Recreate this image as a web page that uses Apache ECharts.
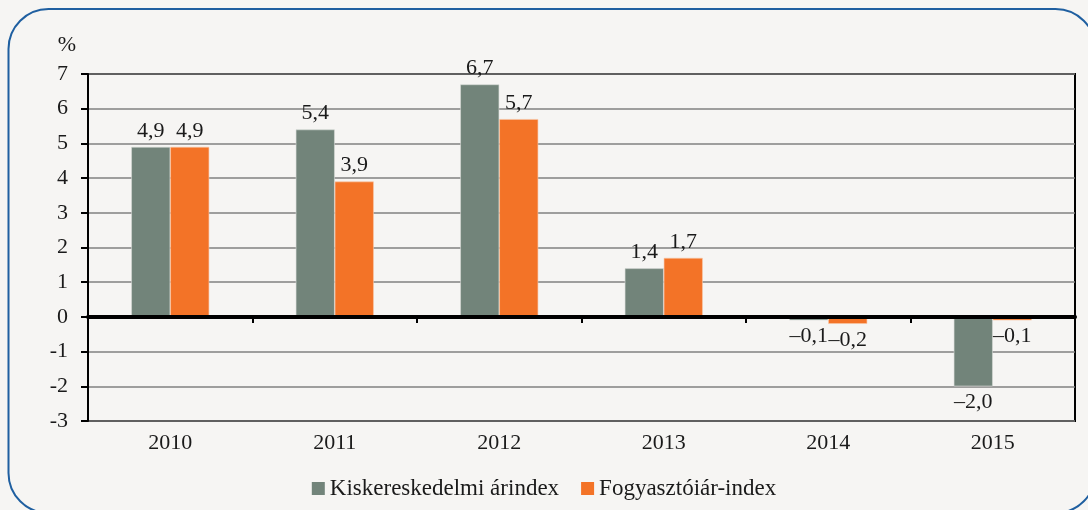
<!DOCTYPE html>
<html>
<head>
<meta charset="utf-8">
<script src="https://cdn.jsdelivr.net/npm/echarts@6/dist/echarts.min.js"></script>
<style>
  html, body { margin: 0; padding: 0; background: #f6f5f3; }
  #chart { width: 1088px; height: 510px; }
</style>
</head>
<body>
<div id="chart"></div>
<script>
var years = ['2010', '2011', '2012', '2013', '2014', '2015'];
var retail = [4.9, 5.4, 6.7, 1.4, -0.1, -2.0];
var consumer = [4.9, 3.9, 5.7, 1.7, -0.2, -0.1];
var seriesNames = ['Kiskereskedelmi árindex', 'Fogyasztóiár-index'];
var yMin = -3, yMax = 7;

var font = "'Liberation Serif', 'DejaVu Serif', serif";
var fs = 22;

// tizedesvessző és nagykötőjel
function fmt(v) {
    var s = Math.abs(v).toFixed(1).replace('.', ',');
    return v < 0 ? '\u2013' + s : s;
}

function barData(arr) {
    return arr.map(function (v) {
        return {
            value: v,
            label: { position: v < 0 ? 'bottom' : 'top' }
        };
    });
}

var chart = echarts.init(document.getElementById('chart'));

var option = {
    backgroundColor: '#f6f5f3',
    animation: false,
    textStyle: { fontFamily: font },
    graphic: [{
        type: 'rect',
        shape: { x: 8.5, y: 9, width: 1087, height: 504, r: 40 },
        style: { fill: 'none', stroke: '#1f5fa0', lineWidth: 2 },
        silent: true
    }],
    grid: {
        left: 88, right: 13, top: 74, bottom: 89,
        show: true,
        borderColor: '#000',
        borderWidth: 2,
        backgroundColor: 'transparent'
    },
    legend: {
        bottom: 5,
        left: 'center',
        icon: 'rect',
        itemWidth: 13,
        itemHeight: 13,
        itemGap: 22,
        itemStyle: { borderWidth: 0 },
        textStyle: { fontFamily: font, fontSize: 23, color: '#1a1a1a' },
        data: seriesNames
    },
    xAxis: [
        {
            type: 'category',
            data: years,
            axisLine: { onZero: true, lineStyle: { color: '#000', width: 4 } },
            axisTick: { show: true, length: 6, lineStyle: { color: '#000', width: 2 } },
            axisLabel: { show: false },
            splitLine: { show: false },
            z: 5
        },
        {
            type: 'category',
            data: years,
            position: 'bottom',
            axisLine: { show: false, onZero: false },
            axisTick: { show: false },
            axisLabel: { fontFamily: font, fontSize: fs, color: '#1a1a1a', margin: 11 }
        }
    ],
    yAxis: {
        type: 'value',
        min: yMin,
        max: yMax,
        interval: 1,
        name: '%',
        nameLocation: 'end',
        nameGap: 18,
        nameTextStyle: { fontFamily: font, fontSize: fs, color: '#1a1a1a', align: 'right', padding: [0, 12, 0, 0] },
        axisLine: { show: true, lineStyle: { color: '#000', width: 2 } },
        axisTick: { show: true, inside: false, length: 7, lineStyle: { color: '#000', width: 2 } },
        axisLabel: { fontFamily: font, fontSize: fs, color: '#1a1a1a', margin: 20 },
        splitLine: { show: true, lineStyle: { color: '#808080', width: 1.5 } }
    },
    series: [
        {
            name: seriesNames[0],
            type: 'bar',
            data: barData(retail),
            barWidth: 39,
            barGap: '0%',
            itemStyle: { color: '#72847a', borderColor: '#d8dcd8', borderWidth: 0.6 },
            label: {
                show: true,
                distance: 5,
                fontFamily: font,
                fontSize: fs,
                color: '#1a1a1a',
                formatter: function (p) { return fmt(p.value); }
            }
        },
        {
            name: seriesNames[1],
            type: 'bar',
            data: barData(consumer),
            barWidth: 39,
            barGap: '0%',
            itemStyle: { color: '#f37327', borderColor: '#f8c8a8', borderWidth: 0.6 },
            label: {
                show: true,
                distance: 5,
                fontFamily: font,
                fontSize: fs,
                color: '#1a1a1a',
                formatter: function (p) { return fmt(p.value); }
            }
        }
    ]
};

chart.setOption(option);
</script>
</body>
</html>
